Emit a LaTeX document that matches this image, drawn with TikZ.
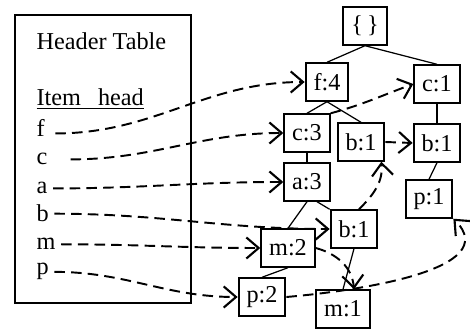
\documentclass[tikz,border=0pt]{standalone}
\usepackage{fontspec}
\setmainfont{Liberation Serif}
\usetikzlibrary{arrows.meta}
\begin{document}
\begin{tikzpicture}[
		font=\fontsize{13.8}{16}\selectfont,
		tnode/.style={draw, line width=1.1pt, minimum height=0.75cm, inner xsep=4.5pt, inner ysep=0pt},
		item/.style={anchor=base west, inner xsep=3pt, inner ysep=1.5pt},
		edge/.style={line width=0.7pt},
		hlink/.style={line width=1.1pt, dash pattern=on 6pt off 3.5pt, -{Straight Barb[length=7pt,width=12pt,line width=1.2pt]}}
	]
					\useasboundingbox (0,0) rectangle (9.4,6.58);
					\draw[line width=1.1pt](0.3,0.52) rectangle (3.82,6.28);
					\node[item] (title) at (0.62,5.58) {Header Table};
					\node[item] (cols) at (0.62,4.46) {\underline{Item\hspace{0.7em}head}};
					\node[item] (f) at (0.62,3.84) {f};
					\node[item] (c) at (0.62,3.28) {c};
					\node[item] (a) at (0.62,2.70) {a};
					\node[item] (b) at (0.62,2.14) {b};
					\node[item] (m) at (0.62,1.58) {m};
					\node[item] (p) at (0.62,1.08) {p};
					
					\node[tnode] (root) at (7.30,6.06) {\{\,\}};
					\node[tnode] (f4) at (6.54,4.94) {f:4};
					\node[tnode] (c1) at (8.74,4.90) {c:1};
					\node[tnode] (c3) at (6.14,3.92) {c:3};
					\node[tnode] (b1m) at (7.22,3.74) {b:1};
					\node[tnode] (b1r) at (8.74,3.72) {b:1};
					\node[tnode] (a3) at (6.14,2.94) {a:3};
					\node[tnode] (p1) at (8.58,2.60) {p:1};
					\node[tnode] (b1l) at (7.08,2.00) {b:1};
					\node[tnode] (m2) at (5.76,1.62) {m:2};
					\node[tnode] (p2) at (5.24,0.64) {p:2};
					\node[tnode] (m1) at (6.86,0.40) {m:1};
					
					\draw[edge] (root.south) -- (f4.north);
					\draw[edge] (root.south) -- (c1.north);
					\draw[edge] (f4.south) -- (c3.north);
					\draw[edge] (f4.south) -- (b1m.north);
					\draw[edge] (c1.south) -- (b1r.north);
					\draw[edge] (c3) -- (a3);
					\draw[edge] (b1r.south) -- (p1.north);
					\draw[edge] (a3.south) -- (m2.north);
					\draw[edge] ([xshift=0.2cm]a3.south) -- (b1l.north west);
					\draw[edge] (m2.south) -- (p2.north);
					\draw[edge] (b1l.south) -- (m1.north);
					
					\draw[hlink] ([xshift=0.1cm,yshift=-0.1cm]f.east) to[out=0,in=180] (f4.west);
					\draw[hlink] ([xshift=0.35cm]c.east) to[out=0,in=180] (c3.west);
					\draw[hlink] (a.east) to[out=0,in=180] (a3.west);
					\draw[hlink] (b.east) to[out=0,in=180] (b1l.west);
					\draw[hlink] (m.east) to[out=0,in=180] (m2.west);
					\draw[hlink] (p.east) to[out=0,in=180] (p2.west);
					
					\draw[hlink] (c3.north east) to[out=15,in=200] (c1.west);
					\draw[hlink] (b1m.east) -- (b1r.west);
					\draw[hlink] ([xshift=0.1cm]b1l.north) to[out=45,in=-85] ([xshift=-0.08cm]b1m.south east);
					\draw[hlink] (m2.east) to[out=-15,in=95] ([xshift=0.22cm]m1.north);
					\draw[hlink] (p2.east) to[out=5,in=-45] (p1.south east);
				\end{tikzpicture}
\end{document}
